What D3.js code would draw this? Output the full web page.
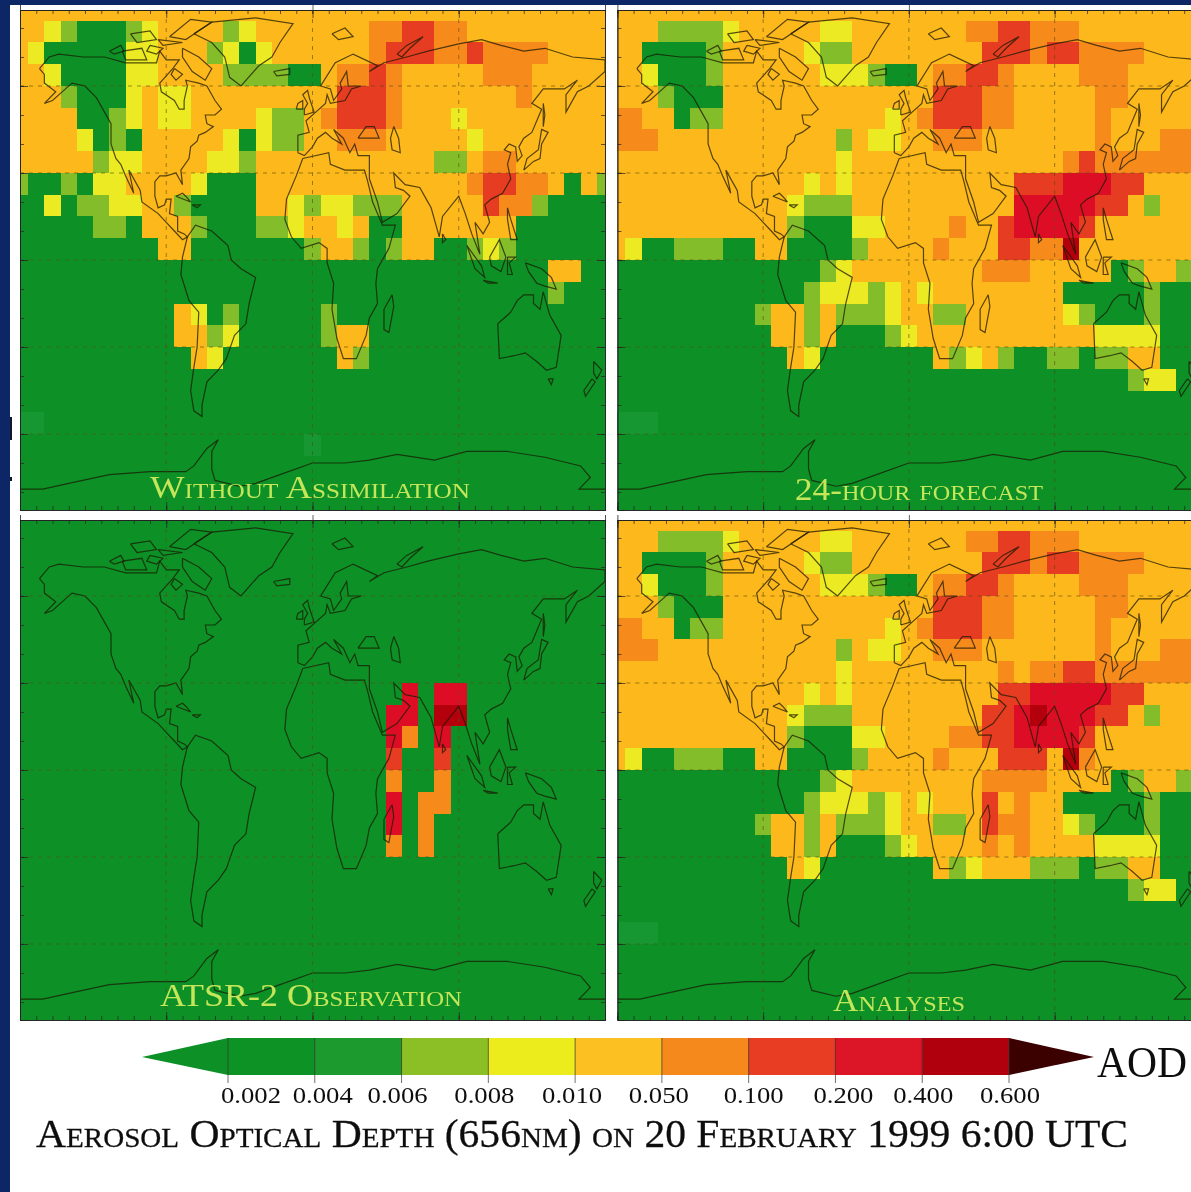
<!DOCTYPE html>
<html>
<head>
<meta charset="utf-8">
<script src="https://cdn.jsdelivr.net/npm/d3@7"></script>
<style>
html, body { margin: 0; padding: 0; background: #fff; overflow: hidden; }
text { font-family: "Liberation Serif", serif; }
</style>
</head>
<body>
<div id="chart"></div>
<script>
// cell classes, 0 = below 0.002 ... 8 = 0.4 to 0.6
const levelColors = ["#0a9128", "#149730", "#84bd2b", "#ecea20", "#fdb81c", "#f68b1f", "#e63e20", "#dd1026", "#b4000f"];
const blank = "0000000000 0000000000 0000000000 0000000";
const amber = "4444444444 4444444444 4444444444 4444444";

const withoutAssim = [
    amber,
    "4432000234 4442344444 4455665544 4444444",
    "4300000334 4423034444 4456665565 5554444",
    "4430000334 4442222004 5565444445 5544444",
    "4442000343 3444444444 6665444444 4544444",
    "4444002343 3444432245 6665444344 4444444",
    "4444302044 4443032244 5554444434 4444444",
    "4444423344 4433244444 4444442245 5444444",
    "2002033444 4300044444 4444444456 6554042",
    "0030223344 2000044323 3222444446 5520000",
    "0000022044 4200022344 3400444444 4000000",
    "0000000004 4000000024 4202440023 2000000",
    "0000000000 0000000000 0000000000 0004400",
    "0000000000 0000000000 0000000000 0002000",
    "0000000000 4302000002 0000000000 0000000",
    "0000000000 4423000002 4400000000 0000000",
    "0000000000 0430000000 4200000000 0000000",
    blank,
    blank,
    "1100000000 0000000000 0000000000 0000000",
    "0000000000 0000000010 0000000000 0000000",
    blank, blank, blank
];

const forecast = [
    amber,
    "4442222344 4443344444 4455665554 4444444",
    "4400002444 4432244444 4446665665 5554444",
    "4430002444 4443332004 5566544445 5544444",
    "4442000444 4444444444 6665544444 5544444",
    "5544022444 4444444345 6665544444 5444444",
    "5554444444 4444243344 5554444444 5444555",
    "4444444444 4444344444 4444444456 5555555",
    "4444444444 4434344444 4444466677 7664444",
    "4444444444 4322244444 4444477777 6642444",
    "4444444444 4200033444 4544677776 4444444",
    "4300222004 4000024444 5444665584 4444444",
    "0000000000 0002344444 4445554444 4024422",
    "0000000000 0023332343 4444444400 0002000",
    "0000000002 4424222344 2244444432 0002000",
    "0000000000 4424000234 4444444444 3333000",
    "0000000000 0430000000 4234200220 2244000",
    "0000000000 0000000000 0000000000 0023300",
    blank,
    "1110000000 0000000000 0000000000 0000000",
    blank, blank, blank, blank
];

const atsr = [
    blank, blank, blank, blank, blank, blank, blank, blank,
    "0000000000 0000000000 0000707700 0000000",
    "0000000000 0000000000 0007708800 0000000",
    "0000000000 0000000000 0007507000 0000000",
    "0000000000 0000000000 0006006000 0000000",
    "0000000000 0000000000 0005005000 0000000",
    "0000000000 0000000000 0007055000 0000000",
    "0000000000 0000000000 0007050000 0000000",
    "0000000000 0000000000 0005050000 0000000",
    blank, blank, blank, blank, blank, blank, blank, blank
];

const analyses = [
    amber,
    "4442222344 4443344444 4455665554 4444444",
    "4400002444 4432244444 4446665665 5554444",
    "4430002444 4443332004 5566544445 5544444",
    "4442000444 4444444444 6665544444 5544444",
    "5544022444 4444444345 6665544444 5444444",
    "5554444444 4444243344 5554444444 5444555",
    "4444444444 4444344444 4444545566 5555555",
    "4444444444 4434344444 4444667777 7664444",
    "4444444444 4322244444 4446678777 6642444",
    "4444444444 4200033444 4556677776 4444444",
    "4300222004 4000024444 5444666485 4444444",
    "0000000000 0002344444 4445555444 4024422",
    "0000000000 0023332343 4446454400 0002000",
    "0000000002 4424222344 2246554432 0002000",
    "0000000000 4424000234 4445454444 3333000",
    "0000000000 0430000000 4234442220 2244000",
    "0000000000 0000000000 0000000000 0023300",
    blank,
    "1110000000 0000000000 0000000000 0000000",
    blank, blank, blank, blank
];

// coastlines, [lon, lat]
const coasts = [
    [[-168,66],[-162,70],[-156,71],[-141,70],[-128,70],[-115,68],[-108,68],[-96,68],[-94,72],[-90,69],[-82,69],[-86,66],[-94,61],[-93,58],[-85,55],[-82,52],[-79,52],[-79,55],[-77,60],[-78,62],[-70,61],[-65,60],[-60,55],[-56,52],[-60,50],[-66,50],[-65,47],[-61,46],[-66,44],[-70,43],[-71,41],[-75,39],[-76,35],[-81,31],[-80,26],[-82,28],[-84,30],[-90,29],[-94,29],[-97,27],[-97,22],[-95,18],[-91,19],[-90,21],[-87,21],[-88,16],[-83,15],[-83,10],[-79,9],[-77,8],[-80,7],[-85,10],[-90,13],[-95,16],[-105,20],[-106,24],[-113,31],[-110,23],[-115,29],[-118,33],[-121,35],[-124,40],[-124,47],[-128,51],[-133,56],[-140,60],[-148,61],[-152,59],[-160,55],[-165,54],[-158,58],[-165,61],[-165,64],[-168,66]],
    [[-77,8],[-72,12],[-62,10],[-52,5],[-50,0],[-44,-3],[-35,-6],[-39,-15],[-41,-22],[-48,-26],[-53,-34],[-58,-38],[-65,-42],[-68,-50],[-68,-54],[-73,-52],[-75,-45],[-73,-37],[-71,-30],[-70,-18],[-76,-14],[-81,-5],[-80,1],[-77,8]],
    [[-6,35],[10,37],[11,33],[20,31],[32,31],[34,27],[37,20],[43,12],[51,12],[47,4],[40,-3],[39,-8],[40,-15],[35,-20],[33,-26],[27,-34],[19,-34],[15,-27],[12,-17],[13,-8],[9,-1],[9,4],[4,6],[-7,4],[-13,8],[-17,14],[-16,21],[-10,29],[-6,35]],
    [[-9,37],[-9,43],[-2,44],[-4,48],[2,51],[8,54],[9,57],[11,54],[20,55],[24,59],[30,60],[22,60],[21,65],[17,61],[18,59],[13,55],[11,59],[5,60],[14,68],[25,71],[40,67],[35,65],[44,68],[58,70],[71,72],[90,74.5],[104,76],[116,74],[130,72],[143,73],[160,70],[180,69],[180,65],[170,60],[163,58],[156,51],[156,57],[163,62],[155,59],[142,59],[135,54],[141,52],[135,44],[130,42],[127,39],[129,36],[126,34],[125,39],[121,40],[118,38],[122,37],[120,33],[122,28],[117,23],[110,21],[106,19],[109,13],[105,9],[100,13],[103,2],[98,9],[94,16],[90,22],[80,15],[78,8],[73,18],[70,21],[66,25],[57,26],[50,30],[51,25],[56,24],[60,22],[52,16],[43,13],[40,20],[35,28],[35,36],[28,36],[26,40],[23,37],[19,42],[13,45],[18,40],[12,42],[8,44],[3,42],[0,39],[-5,36],[-9,37]],
    [[28,42],[33,46],[38,46],[41,42],[35,42],[28,42]],
    [[50,46],[53,42],[54,37],[49,38],[48,42],[50,46]],
    [[-73,78],[-62,82],[-35,83.5],[-12,81.5],[-20,75],[-25,70],[-33,67],[-44,60],[-51,63],[-54,70],[-62,75],[-73,78]],
    [[-80,73],[-70,70],[-62,66],[-66,62],[-74,65],[-80,70],[-80,73]],
    [[-117,72],[-105,73],[-102,69],[-115,69],[-117,72]],
    [[-88,77],[-75,83],[-62,82],[-78,76],[-88,77]],
    [[-125,72],[-118,74],[-116,72],[-122,71],[-125,72]],
    [[-95,76],[-80,75],[-92,74],[-95,76]],
    [[-112,78],[-100,79],[-96,76],[-108,75],[-112,78]],
    [[-100,74],[-92,73],[-96,71],[-102,72],[-100,74]],
    [[-85,66],[-80,64],[-84,62],[-87,64],[-85,66]],
    [[-24,65],[-14,66],[-14,64],[-22,63.5],[-24,65]],
    [[-5,50],[1,51],[-2,56],[-3,58.5],[-6,57],[-3,54],[-5,52],[-5,50]],
    [[-10,52],[-6,52],[-6,55],[-9,54],[-10,52]],
    [[130,31],[136,34],[140,35],[141,40],[145,44],[141,45],[139,38],[132,35],[130,31]],
    [[142,46],[143,50],[142,54],[142,50],[142,46]],
    [[120,18],[122,14],[126,7],[122,7],[120,14],[120,18]],
    [[109,1],[115,7],[119,1],[116,-4],[110,-2],[109,1]],
    [[95,5],[104,-2],[106,-6],[100,-3],[95,5]],
    [[105,-7],[114,-8],[108,-8],[105,-7]],
    [[120,1],[125,1],[121,-1],[123,-5],[120,-5],[120,1]],
    [[131,-1],[141,-3],[147,-6],[150,-10],[143,-9],[138,-8],[133,-4],[131,-1]],
    [[114,-22],[122,-18],[126,-14],[130,-12],[136,-12],[136,-15],[140,-17],[142,-11],[146,-19],[153,-26],[150,-37],[144,-38],[138,-35],[131,-32],[124,-33],[115,-34],[114,-22]],
    [[145,-41],[148,-41],[147,-43],[145,-41]],
    [[173,-35],[178,-38],[175,-41],[173,-39],[173,-35]],
    [[172,-41],[174,-42],[168,-47],[167,-45],[172,-41]],
    [[49,-12],[50,-16],[47,-25],[44,-24],[44,-17],[49,-12]],
    [[80,9],[82,7],[80,6],[80,9]],
    [[12,78],[20,80],[25,77],[16,76],[12,78]],
    [[52,71],[58,74],[68,77],[60,73],[55,70],[52,71]],
    [[-84,22],[-75,20],[-78,22],[-80,23],[-84,22]],
    [[-74,19],[-69,19],[-71,18],[-74,19]],
    [[-180,-79],[-166,-79],[-150,-77],[-125,-74],[-100,-73],[-78,-73],[-73,-71],[-65,-65],[-58,-62],[-62,-66],[-62,-72],[-60,-76],[-45,-78],[-35,-77],[-20,-74],[0,-70],[20,-70],[35,-69],[52,-67],[75,-69],[95,-66],[120,-66],[143,-68],[165,-71],[171,-75],[164,-79],[180,-79]]
];

const barLabels = ["0.002", "0.004", "0.006", "0.008", "0.010", "0.050", "0.100", "0.200", "0.400", "0.600"];
const barColors = ["#0e9228", "#1f9a2e", "#8cbf25", "#ecec1c", "#fcc020", "#f5891c", "#e83c20", "#dc1228", "#b0000f"];
const arrowColors = ["#0a9128", "#3b0005"];

const width = 1191, height = 1192;
const latMax = 86.2;

// layout of the four maps
const panels = [
    { name: "p1", rows: withoutAssim, x: 20, y: 10, w: 585, label: "Without Assimilation", lx: 150, lw: 320, ly: 498 },
    { name: "p2", rows: forecast, x: 617.4, y: 10, w: 583, label: "24-hour forecast", lx: 795, lw: 248, ly: 500 },
    { name: "p3", rows: atsr, x: 20, y: 520, w: 585, label: "ATSR-2 Observation", lx: 160, lw: 302, ly: 1006 },
    { name: "p4", rows: analyses, x: 617.4, y: 520, w: 583, label: "Analyses", lx: 833, lw: 132, ly: 1011 }
];
const panelH = 500;

const svg = d3.select("#chart").append("svg")
    .attr("width", width)
    .attr("height", height)
    .style("display", "block");

const defs = svg.append("defs");
defs.append("filter").attr("id", "soft")
    .append("feGaussianBlur").attr("stdDeviation", 0.6);

const root = svg.append("g").attr("filter", "url(#soft)");

root.append("rect").attr("width", width).attr("height", height).attr("fill", "#fff");
// navy slide frame
root.append("rect").attr("width", 10).attr("height", height).attr("fill", "#0a2566");
root.append("rect").attr("width", width).attr("height", 5).attr("fill", "#0a2566");
// specks at the frame edge
root.append("rect").attr("x", 10).attr("y", 417).attr("width", 2).attr("height", 23).attr("fill", "#14182a");
root.append("rect").attr("x", 10).attr("y", 477).attr("width", 2).attr("height", 4).attr("fill", "#14182a");

panels.forEach(function(p) {
    const x = d3.scaleLinear().domain([-180, 180]).range([p.x, p.x + p.w]);
    const y = d3.scaleLinear().domain([latMax, -latMax]).range([p.y, p.y + panelH]);

    defs.append("clipPath").attr("id", "clip-" + p.name)
        .append("rect").attr("x", p.x).attr("y", p.y).attr("width", p.w).attr("height", panelH);

    const g = root.append("g");
    const map = g.append("g").attr("clip-path", "url(#clip-" + p.name + ")");

    map.append("rect").attr("x", p.x).attr("y", p.y).attr("width", p.w).attr("height", panelH)
        .attr("fill", levelColors[0]);

    // 10 x 7.5 degree cells
    const cells = [];
    p.rows.forEach(function(row, r) {
        row.replace(/ /g, "").split("").forEach(function(v, c) {
            if (+v > 0) cells.push({ r: r, c: c, v: +v });
        });
    });
    map.selectAll("rect.cell").data(cells).join("rect")
        .attr("class", "cell")
        .attr("x", d => x(-185 + 10 * d.c))
        .attr("y", d => y(90 - 7.5 * d.r))
        .attr("width", d => x(-175 + 10 * d.c) - x(-185 + 10 * d.c))
        .attr("height", d => y(82.5 - 7.5 * d.r) - y(90 - 7.5 * d.r))
        .attr("shape-rendering", "crispEdges")
        .attr("fill", d => levelColors[d.v]);

    const line = d3.line().x(d => x(d[0])).y(d => y(d[1]));
    map.selectAll("path.coast").data(coasts).join("path")
        .attr("class", "coast")
        .attr("d", line)
        .attr("fill", "none")
        .attr("stroke", "#1c1a00")
        .attr("stroke-opacity", 0.75)
        .attr("stroke-width", 1.2);

    // dashed graticule
    map.selectAll("line.lat").data([60, 30, 0, -30, -60]).join("line")
        .attr("class", "lat")
        .attr("x1", p.x).attr("x2", p.x + p.w)
        .attr("y1", d => y(d)).attr("y2", d => y(d));
    map.selectAll("line.lon").data([-90, 0, 90]).join("line")
        .attr("class", "lon")
        .attr("y1", p.y).attr("y2", p.y + panelH)
        .attr("x1", d => x(d)).attr("x2", d => x(d));
    map.selectAll("line.lat, line.lon")
        .attr("stroke", "#5a4a10")
        .attr("stroke-opacity", 0.6)
        .attr("stroke-dasharray", "4 5");

    // frame ticks
    const lonMinor = d3.range(-180, 181, 10), lonMajor = [-90, 0, 90];
    const latMinor = d3.range(-80, 81, 10), latMajor = [-60, -30, 0, 30, 60];
    const addAxis = function(axis, tx, ty, size, values) {
        const a = g.append("g").attr("transform", "translate(" + tx + "," + ty + ")")
            .call(axis.tickValues(values).tickSize(size).tickFormat(""));
        a.selectAll("path").attr("stroke", "#222").attr("stroke-opacity", 0.8);
        a.selectAll("line").attr("stroke", "#222").attr("stroke-opacity", 0.7);
    };
    addAxis(d3.axisTop(x), 0, p.y, -4, lonMinor);
    addAxis(d3.axisTop(x), 0, p.y, -8, lonMajor);
    addAxis(d3.axisTop(x), 0, p.y, 5, [0]);
    addAxis(d3.axisBottom(x), 0, p.y + panelH, -4, lonMinor);
    addAxis(d3.axisBottom(x), 0, p.y + panelH, -8, lonMajor);
    addAxis(d3.axisLeft(y), p.x, 0, -4, latMinor);
    addAxis(d3.axisLeft(y), p.x, 0, -8, latMajor);
    addAxis(d3.axisRight(y), p.x + p.w, 0, -4, latMinor);
    addAxis(d3.axisRight(y), p.x + p.w, 0, -8, latMajor);

    g.append("text")
        .attr("x", p.lx).attr("y", p.ly)
        .attr("textLength", p.lw)
        .attr("lengthAdjust", "spacingAndGlyphs")
        .style("font-variant", "small-caps")
        .style("font-size", "32px")
        .attr("fill", "#c6e65a")
        .text(p.label);
});

// colour bar
const barTop = 1038, barBottom = 1075, barMid = 1057;
const bx = d3.scalePoint().domain(barLabels).range([228, 1009]);
const bar = root.append("g");

bar.selectAll("rect").data(barColors).join("rect")
    .attr("x", (d, i) => bx(barLabels[i]))
    .attr("y", barTop)
    .attr("width", (d, i) => bx(barLabels[i + 1]) - bx(barLabels[i]) + 0.5)
    .attr("height", barBottom - barTop)
    .attr("fill", d => d);

bar.append("polygon")
    .attr("points", [[bx("0.002"), barTop], [142, barMid], [bx("0.002"), barBottom]].join(" "))
    .attr("fill", arrowColors[0]);
bar.append("polygon")
    .attr("points", [[bx("0.600"), barTop], [1094, barMid], [bx("0.600"), barBottom]].join(" "))
    .attr("fill", arrowColors[1]);

bar.selectAll("line").data(barLabels).join("line")
    .attr("x1", d => bx(d)).attr("x2", d => bx(d))
    .attr("y1", barTop).attr("y2", barBottom + 8)
    .attr("stroke", "#333")
    .attr("stroke-opacity", 0.7);

// the printed labels sit a little off their ticks
const labelNudge = [23, 8, -4, -4, -3, -3, 5, 8, 1, 1];
bar.selectAll("text.tick").data(barLabels).join("text")
    .attr("class", "tick")
    .attr("x", (d, i) => bx(d) + labelNudge[i])
    .attr("y", 1103)
    .attr("text-anchor", "middle")
    .attr("textLength", 60)
    .attr("lengthAdjust", "spacingAndGlyphs")
    .style("font-size", "24px")
    .attr("fill", "#111")
    .text(d => d);

bar.append("text")
    .attr("x", 1097).attr("y", 1077)
    .attr("textLength", 90)
    .attr("lengthAdjust", "spacingAndGlyphs")
    .style("font-size", "44px")
    .attr("fill", "#111")
    .text("AOD");

root.append("text")
    .attr("x", 36).attr("y", 1147)
    .attr("textLength", 1092)
    .attr("lengthAdjust", "spacingAndGlyphs")
    .style("font-variant", "small-caps")
    .style("font-size", "40px")
    .attr("fill", "#111")
    .attr("stroke", "#111")
    .attr("stroke-width", 0.3)
    .text("Aerosol Optical Depth (656nm) on 20 February 1999 6:00 UTC");
</script>
</body>
</html>
